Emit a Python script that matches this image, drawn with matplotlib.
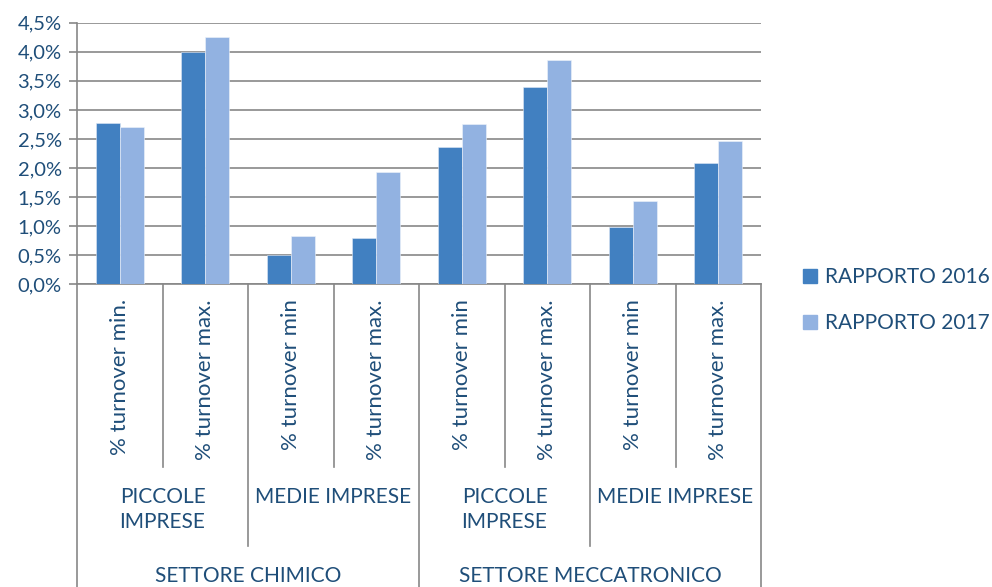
import matplotlib
matplotlib.use('Agg')
import matplotlib.pyplot as plt
from matplotlib.patches import Patch
from matplotlib.transforms import blended_transform_factory
import numpy as np

plt.rcParams['font.family'] = ['Lato', 'DejaVu Sans']

# data
categories = ['% turnover min.', '% turnover max.', '% turnover min', '% turnover max.',
              '% turnover min', '% turnover max.', '% turnover min', '% turnover max.']
groups = ['PICCOLE\nIMPRESE', 'MEDIE IMPRESE', 'PICCOLE\nIMPRESE', 'MEDIE IMPRESE']
sectors = ['SETTORE CHIMICO', 'SETTORE MECCATRONICO']
rapporto_2016 = [2.78, 3.99, 0.50, 0.79, 2.36, 3.39, 0.99, 2.09]
rapporto_2017 = [2.71, 4.26, 0.83, 1.94, 2.76, 3.85, 1.44, 2.47]
series_names = ['RAPPORTO 2016', 'RAPPORTO 2017']

c16 = '#4180C1'
c17 = '#92B2E1'
txt = '#1F4E79'
grey = '#878787'

W, H = 992, 587
fig = plt.figure(figsize=(W / 100, H / 100), dpi=100)
ax = fig.add_axes([77 / W, 1 - 284.3 / H, (761 - 77) / W, (284.3 - 22.7) / H])

x = np.arange(len(categories)) + 0.5
bw = 0.28
ax.bar(x - bw / 2, rapporto_2016, bw, color=c16, edgecolor='#dfe8f5', linewidth=0.4, zorder=3)
ax.bar(x + bw / 2, rapporto_2017, bw, color=c17, edgecolor='#eef3fb', linewidth=0.4, zorder=3)

ax.set_xlim(0, len(categories))
ax.set_ylim(0, 4.5)
yt = np.arange(0, 4.51, 0.5)
ax.set_yticks(yt)
ax.set_yticklabels([('%.1f%%' % v).replace('.', ',') for v in yt], color=txt, fontsize=14.5)
ax.tick_params(axis='y', length=6, color=grey, width=1.2, pad=5)
ax.set_xticks([])
ax.yaxis.grid(True, color=grey, linewidth=1.2, zorder=0)
for s in ['top', 'right']:
    ax.spines[s].set_visible(False)
for s in ['left', 'bottom']:
    ax.spines[s].set_color(grey)
    ax.spines[s].set_linewidth(1.2)

# multi level category axis
tr = blended_transform_factory(ax.transData, fig.transFigure)
def fy(py):
    return 1 - py / H

y0 = fy(284.3)
for b in range(len(categories) + 1):
    if b % 4 == 0:
        yb = 0
    elif b % 2 == 0:
        yb = fy(546)
    else:
        yb = fy(467)
    ax.plot([b, b], [y0, yb], color=grey, lw=1.2, transform=tr, clip_on=False)

for xi, lab in zip(x, categories):
    ax.text(xi, fy(299), lab, rotation=90, ha='center', va='top', fontsize=16,
            color=txt, transform=tr)
for i, lab in enumerate(groups):
    ax.text(2 * i + 1, fy(487), lab, ha='center', va='top', fontsize=15, color=txt,
            transform=tr, linespacing=1.3)
for i, lab in enumerate(sectors):
    ax.text(4 * i + 2, fy(566), lab, ha='center', va='top', fontsize=15, color=txt,
            transform=tr)

handles = [Patch(color=c16), Patch(color=c17)]
fig.legend(handles, series_names, loc='center left', bbox_to_anchor=(803 / W, fy(300)),
           frameon=False, fontsize=15, labelcolor=txt, handlelength=0.65, handleheight=0.65,
           handletextpad=0.4, labelspacing=1.25, borderpad=0, borderaxespad=0)

fig.savefig('out.png', dpi=100)
